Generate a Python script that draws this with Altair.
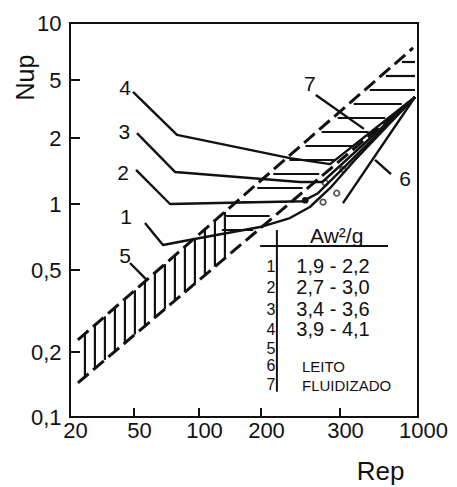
import numpy as np
import pandas as pd
import altair as alt

INK = "#111111"
FONT = "Liberation Sans"

# Non-uniform logarithmic grid of the diagram: tick values and where they fall
X_TICKS = [20, 50, 100, 200, 300, 1000]
Y_TICKS = [0.1, 0.2, 0.5, 1, 2, 5, 10]
X_RANGE = [0, 64, 129, 191, 270, 348]
Y_RANGE = [394, 329, 247, 181, 115, 57, 0]
W, H = 348, 394

# Curves 1-4: one per Aw^2/g group
curve1_rep = [56.2, 68.1, 101, 146, 198, 232, 257, 285, 378, 955]
curve1_nup = [0.819, 0.650, 0.700, 0.745, 0.785, 0.863, 0.969, 1.18, 1.59, 3.82]
curve2_rep = [51.1, 73.4, 248, 268, 955]
curve2_nup = [1.43, 1.00, 1.03, 1.12, 3.82]
curve3_rep = [51.6, 77.4, 244, 274, 955]
curve3_nup = [2.16, 1.40, 1.26, 1.26, 3.82]
curve4_rep = [49.3, 79.1, 232, 285, 955]
curve4_nup = [4.14, 2.10, 1.62, 1.52, 3.82]
# Curve 6
curve6_rep = [314, 955]
curve6_nup = [1.01, 3.82]

# Correlation bands 5 and 7: upper and lower dashed limits
upper_rep = [22.4, 926]
upper_nup = [0.229, 7.38]
lower_rep = [22.4, 955]
lower_nup = [0.144, 3.82]
band5_rep = [22.4, 138]   # vertically hatched part
band7_rep = [138, 926]    # horizontally hatched part

# Experimental points
open_rep = [278, 295, 275, 314]
open_nup = [1.25, 1.12, 1.02, 1.44]
solid_rep = [251]
solid_nup = [1.04]

# Curve labels
label_text = ["1", "2", "3", "4", "5", "6", "7"]
label_rep = [44.6, 42.7, 43.6, 44.0, 44.0, 818, 257]
label_nup = [0.863, 1.37, 2.16, 4.34, 0.573, 1.29, 4.62]
leader_rep = [[47.2, 57.4], [515, 659], [265, 434]]
leader_nup = [[0.538, 0.447], [1.59, 1.37], [3.95, 2.31]]

# Key table
table_ids = ["1", "2", "3", "4", "5", "6", "7"]
table_ranges = ["1,9 - 2,2", "2,7 - 3,0", "3,4 - 3,6", "3,9 - 4,1"]
table_note = ["LEITO", "FLUIDIZADO"]
table_header = "Aw²/g"
row_nup = [0.516, 0.409, 0.320, 0.256, 0.2069, 0.1723, 0.1407]
note_nup = [0.170, 0.139]
id_rep, range_rep, note_rep = 210.5, 289.4, 246.8
header_rep, header_nup = 295, 0.707
hline_rep, hline_nup = [198, 629], 0.643
vline_rep, vline_nup = 217, [0.761, 0.131]


# --- helpers mirroring the piecewise scales (used to lay out the hatching) ---
def x_px(v):
    return np.interp(np.log(v), np.log(X_TICKS), X_RANGE)


def y_px(v):
    return np.interp(np.log(v), np.log(Y_TICKS), Y_RANGE)


def x_val(p):
    return float(np.exp(np.interp(p, X_RANGE, np.log(X_TICKS))))


def y_val(p):
    return float(np.exp(np.interp(p, Y_RANGE[::-1], np.log(Y_TICKS[::-1]))))


ux = [x_px(v) for v in upper_rep]; uy = [y_px(v) for v in upper_nup]
lx = [x_px(v) for v in lower_rep]; ly = [y_px(v) for v in lower_nup]


def y_on(xs_, ys_, xp):
    return ys_[0] + (xp - xs_[0]) * (ys_[1] - ys_[0]) / (xs_[1] - xs_[0])


def x_on(xs_, ys_, yp):
    return xs_[0] + (yp - ys_[0]) * (xs_[1] - xs_[0]) / (ys_[1] - ys_[0])


hatch = []
# vertical hatching of band 5
xp = x_px(band5_rep[0]) + 7
while xp <= x_px(band5_rep[1]):
    hatch.append((x_val(xp), y_val(y_on(ux, uy, xp)), x_val(xp), y_val(y_on(lx, ly, xp))))
    xp += 10
# horizontal hatching of band 7
yp = 39
x7 = x_px(band7_rep[0]) - 6
while yp <= 220:
    a = max(x_on(ux, uy, yp) + 5, x7)
    b = min(x_on(lx, ly, yp) - 5, W - 3)
    if b - a > 6:
        hatch.append((x_val(a), y_val(yp), x_val(b), y_val(yp)))
    yp += 14
hatch_df = pd.DataFrame(hatch, columns=["x", "y", "x2", "y2"])

xs = alt.Scale(type="log", domain=X_TICKS, range=X_RANGE, nice=False)
ys = alt.Scale(type="log", domain=Y_TICKS, range=Y_RANGE, nice=False)

x_axis = alt.Axis(values=X_TICKS, format="d", ticks=False, domain=False, grid=False,
                  labelFont=FONT, labelFontSize=22, labelColor=INK, labelPadding=3,
                  labelOffset=5, labelFlush=False, labelOverlap=False, labelBound=False,
                  title="Rep", titleFont=FONT, titleFontSize=26, titleFontWeight="normal",
                  titleColor=INK, titleX=310, titleY=54, titleAlign="center",
                  titleBaseline="middle")
y_axis = alt.Axis(values=Y_TICKS, labelExpr="replace(format(datum.value, '~g'), '.', ',')",
                  ticks=False, domain=False, grid=False,
                  labelFont=FONT, labelFontSize=22, labelColor=INK, labelPadding=9,
                  labelFlush=False, labelOverlap=False, labelBound=False,
                  title="Nup", titleFont=FONT, titleFontSize=25, titleFontWeight="normal",
                  titleColor=INK, titleAngle=270, titleX=-45, titleY=54,
                  titleAlign="center", titleBaseline="middle")


def X(field):
    return alt.X(field, type="quantitative", scale=xs, axis=x_axis)


def Y(field):
    return alt.Y(field, type="quantitative", scale=ys, axis=y_axis)


bounds_df = pd.DataFrame({
    "x": [upper_rep[0], lower_rep[0]], "x2": [upper_rep[1], lower_rep[1]],
    "y": [upper_nup[0], lower_nup[0]], "y2": [upper_nup[1], lower_nup[1]],
})
bounds = alt.Chart(bounds_df).mark_rule(color=INK, strokeWidth=3, strokeDash=[14, 6]).encode(
    x=X("x"), y=Y("y"), x2="x2:Q", y2="y2:Q",
)

hatching = alt.Chart(hatch_df).mark_rule(color=INK, strokeWidth=2.2).encode(
    x=X("x"), y=Y("y"), x2="x2:Q", y2="y2:Q",
)

rows = []
for cid, (r, n) in {"1": (curve1_rep, curve1_nup), "2": (curve2_rep, curve2_nup),
                    "3": (curve3_rep, curve3_nup), "4": (curve4_rep, curve4_nup),
                    "6": (curve6_rep, curve6_nup)}.items():
    for i, (a, b) in enumerate(zip(r, n)):
        rows.append({"curve": cid, "i": i, "rep": a, "nup": b})
curves_df = pd.DataFrame(rows)
curves = alt.Chart(curves_df).mark_line(color=INK, strokeWidth=2.4, strokeJoin="round").encode(
    x=X("rep"), y=Y("nup"), detail="curve:N", order="i:Q",
)

leaders_df = pd.DataFrame({
    "x": [r[0] for r in leader_rep], "x2": [r[1] for r in leader_rep],
    "y": [n[0] for n in leader_nup], "y2": [n[1] for n in leader_nup],
})
leaders = alt.Chart(leaders_df).mark_rule(color=INK, strokeWidth=2.4).encode(
    x=X("x"), y=Y("y"), x2="x2:Q", y2="y2:Q",
)

open_pts = alt.Chart(pd.DataFrame({"rep": open_rep, "nup": open_nup})).mark_point(
    shape="circle", size=30, color=INK, strokeWidth=1.8, filled=False
).encode(x=X("rep"), y=Y("nup"))
solid_pts = alt.Chart(pd.DataFrame({"rep": solid_rep, "nup": solid_nup})).mark_point(
    shape="circle", size=45, color=INK, filled=True, opacity=1
).encode(x=X("rep"), y=Y("nup"))

labels = alt.Chart(pd.DataFrame({"t": label_text, "rep": label_rep, "nup": label_nup})).mark_text(
    font=FONT, fontSize=21, color=INK, align="center", baseline="middle"
).encode(x=X("rep"), y=Y("nup"), text="t:N")

# inward tick marks on the frame
xt = alt.Chart(pd.DataFrame({"v": X_TICKS[1:-1]})).mark_rule(color=INK, strokeWidth=2).encode(
    x=X("v"), y=alt.value(H), y2=alt.value(H - 9))
yt = alt.Chart(pd.DataFrame({"v": Y_TICKS[1:-1]})).mark_rule(color=INK, strokeWidth=2).encode(
    y=Y("v"), x=alt.value(0), x2=alt.value(10))

# key table
tab_lines = alt.Chart(pd.DataFrame({
    "x": [hline_rep[0], vline_rep], "x2": [hline_rep[1], vline_rep],
    "y": [hline_nup, vline_nup[0]], "y2": [hline_nup, vline_nup[1]],
})).mark_rule(color=INK, strokeWidth=2).encode(
    x=X("x"), y=Y("y"), x2="x2:Q", y2="y2:Q",
)
tab_ids = alt.Chart(pd.DataFrame({"t": table_ids, "nup": row_nup, "rep": id_rep})).mark_text(
    font=FONT, fontSize=16, color=INK, align="center", baseline="middle"
).encode(x=X("rep"), y=Y("nup"), text="t:N")
tab_ranges = alt.Chart(pd.DataFrame({"t": table_ranges, "nup": row_nup[:4], "rep": range_rep})).mark_text(
    font=FONT, fontSize=20, color=INK, align="center", baseline="middle"
).encode(x=X("rep"), y=Y("nup"), text="t:N")
tab_note = alt.Chart(pd.DataFrame({"t": table_note, "nup": note_nup, "rep": note_rep})).mark_text(
    font=FONT, fontSize=15, color=INK, align="left", baseline="middle"
).encode(x=X("rep"), y=Y("nup"), text="t:N")
tab_head = alt.Chart(pd.DataFrame({"t": [table_header], "nup": [header_nup], "rep": [header_rep]})).mark_text(
    font=FONT, fontSize=21, color=INK, align="center", baseline="middle"
).encode(x=X("rep"), y=Y("nup"), text="t:N")

chart = alt.layer(
    bounds, hatching, curves, leaders, open_pts, solid_pts, labels, xt, yt,
    tab_lines, tab_ids, tab_ranges, tab_note, tab_head,
).properties(
    width=W, height=H,
    autosize=alt.AutoSizeParams(type="none"),
    padding={"left": 70, "top": 23, "right": 39, "bottom": 70},
    background="white",
).configure_view(stroke=INK, strokeWidth=2)

chart.save("out.html", embed_options={"renderer": "svg", "actions": False})
